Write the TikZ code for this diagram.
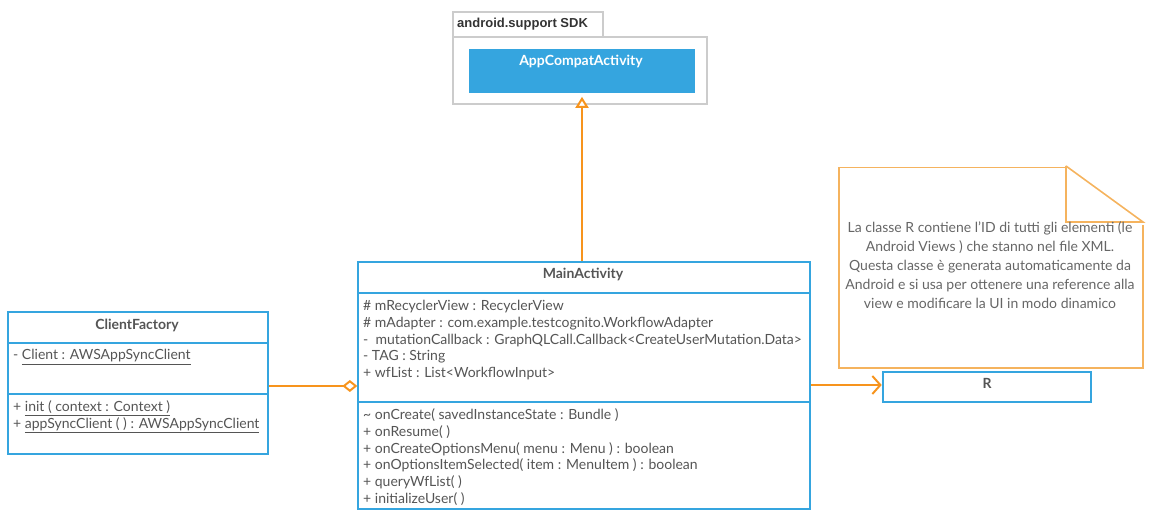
\documentclass[tikz,border=0pt]{standalone}
\usepackage{fontspec}
\setmainfont{Lato}
\newfontfamily\pkgfont{Liberation Sans}
\usetikzlibrary{arrows.meta}
\definecolor{ublue}{HTML}{35A5DF}
\definecolor{uorange}{HTML}{F7941D}
\definecolor{unote}{HTML}{F5B35E}
\definecolor{ugray}{HTML}{CCCCCC}
\definecolor{utext}{HTML}{555555}
\definecolor{unotetext}{HTML}{666666}
\begin{document}
\begin{tikzpicture}[x=1pt,y=-1pt,
  font=\fontsize{14}{17}\selectfont,
  cls/.style={draw=ublue, line width=2pt, fill=white, inner sep=0pt, rectangle},
  divline/.style={draw=ublue, line width=2pt},
  ttl/.style={anchor=base, font=\fontsize{14}{17}\selectfont\bfseries, text=utext, inner sep=0pt},
  itm/.style={anchor=base west, text=utext, inner sep=0pt},
  conn/.style={draw=uorange, line width=2pt},
  inh/.style={conn, -{Triangle[open, length=11pt, width=13pt, fill=white, line width=2pt]}},
  agg/.style={conn, -{Diamond[open, length=15pt, width=12pt, fill=white, line width=2pt]}},
  dep/.style={conn, -{Straight Barb[length=8pt, width=18pt, line width=2pt]}}
]
\useasboundingbox (0,0) rectangle (1152,521);

% package
\draw[ugray, line width=2pt] (453.3,36.7) rectangle (603.3,11.7);
\draw[ugray, line width=2pt, fill=white] (453.3,36.7) rectangle (706.7,104.3);
\node[anchor=base west, inner sep=0pt, text=black!80, font=\pkgfont\fontsize{13}{16}\selectfont\bfseries] (pkg) at (457,27.7) {android.support SDK};
\node[fill=ublue, inner sep=0pt, minimum width=226pt, minimum height=43.7pt] (app) at (582,70.8) {};
\node[anchor=base, inner sep=0pt, text=white, font=\fontsize{14}{17}\selectfont\bfseries] (apptxt) at (581,66) {AppCompatActivity};

% MainActivity
\node[cls, minimum width=451.7pt, minimum height=247pt] (main) at (584.2,385.5) {};
\draw[divline] (358.3,292.8) -- (810,292.8);
\draw[divline] (358.3,402) -- (810,402);
\node[ttl] (maint) at (583,279) {MainActivity};
\node[itm] (a1) at (363,310.7) {\# mRecyclerView : RecyclerView};
\node[itm] (a2) at (363,327.4) {\# mAdapter : com.example.testcognito.WorkflowAdapter};
\node[itm] (a3) at (363,344.1) {-\ \ mutationCallback : GraphQLCall.Callback<CreateUserMutation.Data>};
\node[itm] (a4) at (363,360.8) {- TAG : String};
\node[itm] (a5) at (363,377.5) {+ wfList : List<WorkflowInput>};
\node[itm] (m1) at (363,420) {\textasciitilde\ onCreate( savedInstanceState : Bundle )};
\node[itm] (m2) at (363,436.6) {+ onResume( )};
\node[itm] (m3) at (363,453.2) {+ onCreateOptionsMenu( menu : Menu ) : boolean};
\node[itm] (m4) at (363,469.8) {+ onOptionsItemSelected( item : MenuItem ) : boolean};
\node[itm] (m5) at (363,486.4) {+ queryWfList( )};
\node[itm] (m6) at (363,503) {+ initializeUser( )};

% ClientFactory
\node[cls, minimum width=260.5pt, minimum height=142.6pt] (cf) at (137.75,383) {};
\draw[divline] (7.5,342.7) -- (268,342.7);
\draw[divline] (7.5,394.3) -- (268,394.3);
\node[ttl] (cft) at (137,329.3) {ClientFactory};
\node[itm] (c1) at (13,360) {- \underline{Client : AWSAppSyncClient}};
\node[itm] (c2) at (13,411.7) {+ \underline{init ( context : Context )}};
\node[itm] (c3) at (13,428.3) {+ \underline{appSyncClient ( ) : AWSAppSyncClient}};

% R
\node[cls, minimum width=208.3pt, minimum height=30pt] (r) at (986.85,387) {};
\node[ttl] (rt) at (987,389) {R};

% note
\draw[unote, line width=1.6pt, line join=miter]
  (1143,225) -- (1143,368) -- (839,368) -- (839,167.5) -- (1066,167.5);
\draw[unote, line width=1.6pt]
  (1066,166) -- (1066,222) -- (1143,222) -- (1066,166);
\node[anchor=base, inner sep=0pt, text=unotetext, align=center,
      font=\fontsize{14}{19}\selectfont] (note) at (990,309)
  {La classe R contiene l'ID di tutti gli elementi (le\\
   Android Views ) che stanno nel file XML.\\
   Questa classe è generata automaticamente da\\
   Android e si usa per ottenere una reference alla\\
   view e modificare la UI in modo dinamico};

% connectors
\draw[inh] (main.north -| app.south) -- ([yshift=-4pt]app.south);
\draw[agg] (cf.east |- 0,386) -- (main.west |- 0,386);
\draw[dep] (main.east |- 0,385) -- (r.west |- 0,385);
\end{tikzpicture}
\end{document}
